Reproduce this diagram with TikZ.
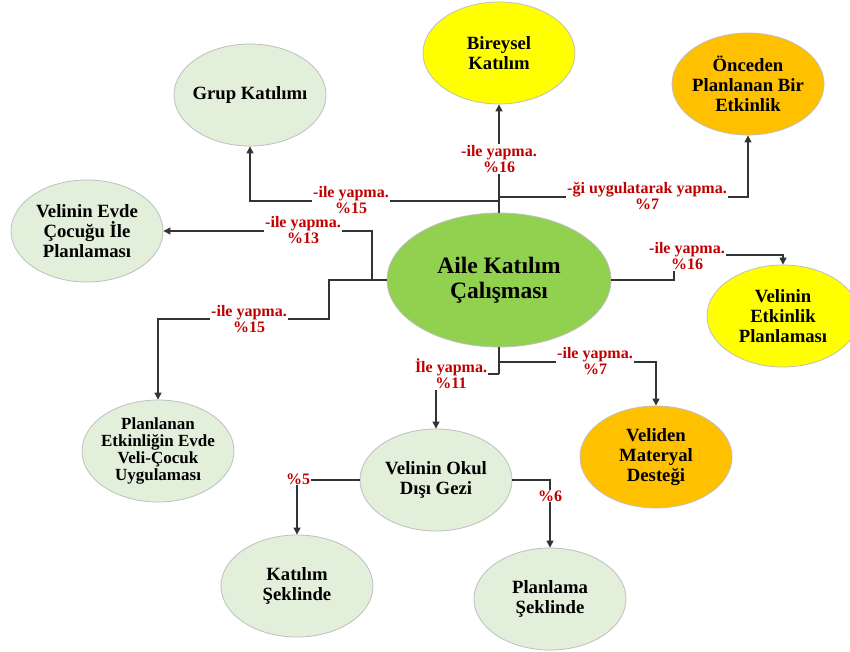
\documentclass[tikz,border=0pt]{standalone}
\usepackage{fontspec}
\setmainfont{Liberation Serif}
\usetikzlibrary{arrows.meta,shapes.geometric}
\definecolor{paleGreen}{HTML}{E2EFDA}
\definecolor{sunYellow}{HTML}{FFFF00}
\definecolor{amber}{HTML}{FFC000}
\definecolor{leaf}{HTML}{92D050}
\definecolor{labelRed}{HTML}{C00000}
\tikzset{
  bubble/.style={ellipse, draw=black!25, line width=0.8pt,
    inner xsep=-20pt, inner ysep=-10pt,
    minimum width=152pt, minimum height=102pt, align=center,
    font=\fontsize{18.7}{20}\selectfont\bfseries},
  paleBubble/.style={bubble, fill=paleGreen},
  yellowBubble/.style={bubble, fill=sunYellow},
  amberBubble/.style={bubble, fill=amber},
  link/.style={draw=black!80, line width=1.1pt},
  arr/.style={link, -{Triangle[length=7pt,width=7pt]}},
  pct/.style={fill=white, inner sep=1pt, align=center, text=labelRed,
    font=\fontsize{16}{16}\selectfont\bfseries}
}
\begin{document}
\begin{tikzpicture}[x=1pt,y=-1pt]
\useasboundingbox[fill=white] (0,0) rectangle (850,652);

% bubbles
\node[bubble, fill=leaf, minimum width=224pt, minimum height=134pt,
      font=\fontsize{23.5}{25}\selectfont\bfseries] (main) at (499,280) {Aile Katılım\\Çalışması};
\node[paleBubble] (grup) at (250,95) {Grup Katılımı};
\node[paleBubble] (evde) at (87,231) {Velinin Evde\\Çocuğu İle\\Planlaması};
\node[yellowBubble] (bir) at (499,53) {Bireysel\\Katılım};
\node[amberBubble] (onc) at (748,84) {Önceden\\Planlanan Bir\\Etkinlik};
\node[yellowBubble] (etk) at (783,316) {Velinin\\Etkinlik\\Planlaması};
\node[paleBubble, font=\fontsize{17}{17}\selectfont\bfseries] (plan) at (158,451)
      {Planlanan\\Etkinliğin Evde\\Veli-Çocuk\\Uygulaması};
\node[paleBubble] (okul) at (436,480) {Velinin Okul\\Dışı Gezi};
\node[amberBubble] (mat) at (656,457) {Veliden\\Materyal\\Desteği};
\node[paleBubble] (kat) at (297,586) {Katılım\\Şeklinde};
\node[paleBubble] (pls) at (550,599) {Planlama\\Şeklinde};

% junctions
\coordinate (jA) at (499,201);
\coordinate (jB) at (499,197);
\coordinate (jC) at (372,280);
\coordinate (jD) at (329,319);
\coordinate (jE) at (674,255);
\coordinate (jF) at (499,374);
\coordinate (jG) at (499,362);

% connectors
\draw[arr] (main.north) -- (bir.south);
\draw[arr] (jA) -| (grup.south);
\draw[arr] (jB) -| (onc.south);
\draw[link] (main.west) -- (jC);
\draw[arr] (jC) |- (evde.east);
\draw[arr] (jC) -| (jD) -| (plan.north);
\draw[arr] (main.east) -| (jE) -| (etk.north);
\draw[link] (main.south) -- (jF);
\draw[arr] (jF) -| (okul.north);
\draw[arr] (jG) -| (mat.north);
\draw[arr] (okul.east) -| (pls.north);
\draw[arr] (okul.west) -| (kat.north);

% labels
\node[pct] (l1) at (499,159) {-ile yapma.\\\%16};
\node[pct] (l2) at (351,200) {-ile yapma.\\\%15};
\node[pct] (l3) at (647,196) {-ği uygulatarak yapma.\\\%7};
\node[pct] (l4) at (303,230) {-ile yapma.\\\%13};
\node[pct] (l5) at (249,319) {-ile yapma.\\\%15};
\node[pct] (l6) at (687,256) {-ile yapma.\\\%16};
\node[pct] (l7) at (451,374) {İle yapma.\\\%11};
\node[pct] (l8) at (595,361) {-ile yapma.\\\%7};
\node[pct] (l9) at (298,479) {\%5};
\node[pct] (l10) at (550,496) {\%6};
\end{tikzpicture}
\end{document}
